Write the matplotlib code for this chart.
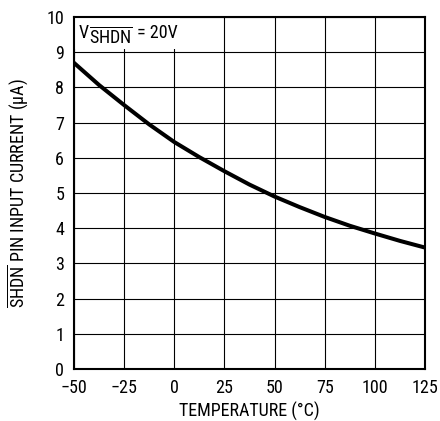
import matplotlib
matplotlib.use("Agg")
from matplotlib import pyplot as plt
from matplotlib.patches import Rectangle

# Datos
temperatura = [-50, -37.5, -25, -12.5, 0, 12.5, 25, 37.5, 50, 62.5, 75, 87.5, 100, 112.5, 125]
corriente = [8.70, 8.07, 7.50, 6.95, 6.45, 6.02, 5.62, 5.24, 4.90, 4.60, 4.32, 4.07, 3.85, 3.64, 3.45]
xticks = [-50, -25, 0, 25, 50, 75, 100, 125]
xticklabels = ["\u221250", "\u221225", "0", "25", "50", "75", "100", "125"]
yticks = list(range(0, 11))

# Fuente estrecha, con respaldo
fuente = "Roboto Condensed"
plt.rcParams['font.family'] = [fuente, 'Roboto', 'DejaVu Sans']
plt.rcParams['mathtext.fontset'] = 'custom'
plt.rcParams['mathtext.rm'] = fuente
plt.rcParams['mathtext.it'] = fuente

fig = plt.figure(figsize=(4.4, 4.21), dpi=100)
ax = fig.add_axes([0.168, 0.1235, 0.798, 0.836])

ax.plot(temperatura, corriente, color='black', linewidth=2.9, zorder=3)

ax.set_xlim(-50, 125)
ax.set_ylim(0, 10)
ax.set_xticks(xticks)
ax.set_xticklabels(xticklabels)
ax.set_yticks(yticks)
ax.tick_params(axis='x', length=0, labelsize=13, pad=7)
ax.tick_params(axis='y', length=0, labelsize=13, pad=7)
ax.grid(True, color='black', linewidth=0.8)
for s in ax.spines.values():
    s.set_linewidth(1.5)

ax.set_xlabel("TEMPERATURE (\u00b0C)", fontsize=13, labelpad=4)
ax.set_ylabel(r"$\overline{\mathrm{SHDN}}$ PIN INPUT CURRENT ($\mathrm{\mu}$A)", fontsize=13, labelpad=12)

# Caja blanca detrás de la etiqueta
ax.add_patch(Rectangle((-50, 9.08), 53, 0.92, facecolor='white', edgecolor='none', zorder=2))
t1 = ax.text(-47.5, 9.4, "V", fontsize=13, va='baseline', zorder=4)
t2 = ax.annotate(r"$\overline{\mathrm{SHDN}}$", xy=(1, 0), xycoords=t1, xytext=(0.3, -0.5),
                 textcoords='offset points', va='baseline', fontsize=13, zorder=4)
t3 = ax.annotate(" = 20V", xy=(1, 0), xycoords=(t2, t1), va='bottom', fontsize=13, zorder=4)

fig.savefig("out.png", dpi=100)
